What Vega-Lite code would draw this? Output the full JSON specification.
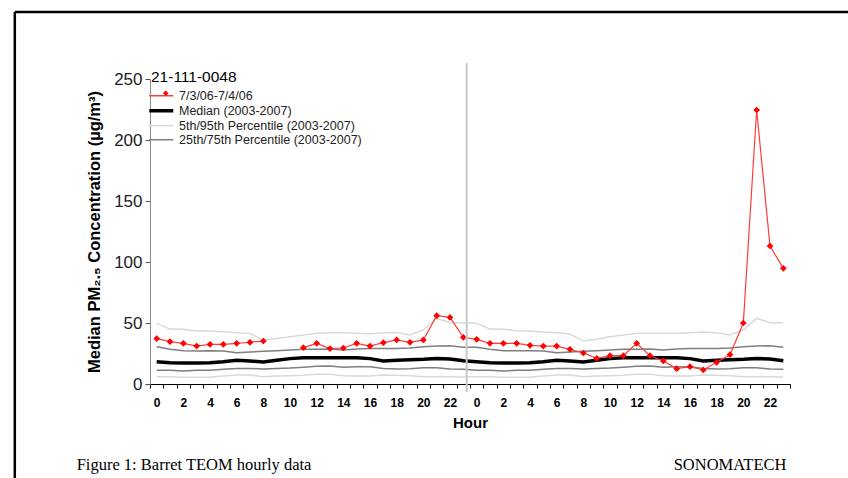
{
  "$schema": "https://vega.github.io/schema/vega-lite/v6.json",
  "autosize": "none",
  "width": 640,
  "height": 305,
  "padding": {"left": 150, "top": 79, "right": 58, "bottom": 94},
  "background": "white",
  "config": {
    "view": {"stroke": null},
    "font": "Liberation Sans",
    "axis": {"grid": false, "labelFont": "Liberation Sans", "titleFont": "Liberation Sans"},
    "axisX": {
      "labelOverlap": false,
      "labelFlush": false,
      "labelBound": false,
      "labelOffset": 6.67,
      "labelFontSize": 12,
      "labelFontWeight": "bold",
      "labelColor": "#000000",
      "labelPadding": 9,
      "tickSize": 4,
      "tickColor": "#000000",
      "domainColor": "#000000",
      "titleFontSize": 15,
      "titleFontWeight": "bold",
      "titleColor": "#000000",
      "titlePadding": 7
    },
    "axisY": {
      "labelOverlap": false,
      "tickSize": 5,
      "tickColor": "#555555",
      "domainColor": "#888888",
      "labelFontSize": 17,
      "labelColor": "#222222",
      "labelPadding": 3,
      "titleFontSize": 16.5,
      "titleFontWeight": "bold",
      "titleColor": "#000000",
      "titlePadding": 11
    }
  },
  "datasets": {
    "hourly": [
      {"i":0,"obs":37.2,"p5":6,"p25":11.2,"med":18.3,"p75":30.6,"p95":49.7},
      {"i":1,"obs":34.7,"p5":6,"p25":11.2,"med":17.5,"p75":28.4,"p95":45},
      {"i":2,"obs":33.3,"p5":5.5,"p25":10.7,"med":17.2,"p75":27.3,"p95":44.8},
      {"i":3,"obs":31.1,"p5":5.5,"p25":11.2,"med":17.2,"p75":27,"p95":43.4},
      {"i":4,"obs":32.5,"p5":5.5,"p25":11.2,"med":17.5,"p75":27.3,"p95":43.4},
      {"i":5,"obs":32.5,"p5":6.6,"p25":12,"med":18.3,"p75":27,"p95":42.9},
      {"i":6,"obs":33.3,"p5":7.4,"p25":12.8,"med":19.4,"p75":25.7,"p95":42},
      {"i":7,"obs":34.2,"p5":7.4,"p25":12.8,"med":18.9,"p75":26.2,"p95":41.5},
      {"i":8,"obs":35.2,"p5":6,"p25":12.3,"med":18,"p75":26.8,"p95":36},
      {"i":9,"obs":null,"p5":6.6,"p25":12.8,"med":19.4,"p75":27.3,"p95":37.2},
      {"i":10,"obs":null,"p5":6.8,"p25":13.1,"med":20.8,"p75":27.9,"p95":38.8},
      {"i":11,"obs":29.8,"p5":7.1,"p25":13.7,"med":21.6,"p75":28.4,"p95":40.2},
      {"i":12,"obs":33.3,"p5":7.9,"p25":14.5,"med":21.6,"p75":28.4,"p95":41.5},
      {"i":13,"obs":29.0,"p5":7.9,"p25":14.8,"med":21.6,"p75":28.7,"p95":42},
      {"i":14,"obs":29.5,"p5":6.8,"p25":13.7,"med":21.6,"p75":27.9,"p95":42},
      {"i":15,"obs":33.3,"p5":6.6,"p25":14.2,"med":21.6,"p75":28.7,"p95":41.5},
      {"i":16,"obs":31.1,"p5":6.6,"p25":14.2,"med":20.8,"p75":29.2,"p95":41},
      {"i":17,"obs":33.9,"p5":7.4,"p25":12.8,"med":18.9,"p75":29.2,"p95":42},
      {"i":18,"obs":36.1,"p5":7.1,"p25":12.3,"med":19.4,"p75":29.2,"p95":42.3},
      {"i":19,"obs":34.2,"p5":6.8,"p25":12.6,"med":19.9,"p75":29.5,"p95":40.2},
      {"i":20,"obs":36.1,"p5":6,"p25":13.4,"med":20.2,"p75":30.6,"p95":44.3},
      {"i":21,"obs":56.0,"p5":6,"p25":13.4,"med":20.8,"p75":31.1,"p95":53.8},
      {"i":22,"obs":54.6,"p5":6,"p25":12.3,"med":20.5,"p75":31.4,"p95":50.3},
      {"i":23,"obs":38.3,"p5":5.7,"p25":12,"med":19.1,"p75":30.1,"p95":50.3},
      {"i":24,"obs":36.6,"p5":6,"p25":11.2,"med":18.3,"p75":30.1,"p95":49.7},
      {"i":25,"obs":33.3,"p5":6,"p25":11.2,"med":17.5,"p75":28.4,"p95":45},
      {"i":26,"obs":33.3,"p5":5.5,"p25":10.7,"med":17.2,"p75":27.3,"p95":44.8},
      {"i":27,"obs":33.3,"p5":5.5,"p25":11.2,"med":17.2,"p75":27.3,"p95":43.6},
      {"i":28,"obs":31.7,"p5":5.5,"p25":11.2,"med":17.5,"p75":27.3,"p95":43.4},
      {"i":29,"obs":31.1,"p5":6.6,"p25":12,"med":18.3,"p75":27,"p95":42.6},
      {"i":30,"obs":31.1,"p5":7.4,"p25":12.8,"med":19.4,"p75":25.7,"p95":42},
      {"i":31,"obs":28.4,"p5":7.4,"p25":12.8,"med":18.9,"p75":26.2,"p95":40.9},
      {"i":32,"obs":25.4,"p5":6,"p25":12.3,"med":18,"p75":26.8,"p95":35.2},
      {"i":33,"obs":21.0,"p5":6.6,"p25":12.8,"med":19.4,"p75":27.3,"p95":36.6},
      {"i":34,"obs":23.2,"p5":6.8,"p25":13.1,"med":20.8,"p75":27.9,"p95":38.8},
      {"i":35,"obs":23.2,"p5":7.1,"p25":13.7,"med":21.6,"p75":28.4,"p95":40.2},
      {"i":36,"obs":33.3,"p5":7.9,"p25":14.5,"med":21.6,"p75":28.4,"p95":41.5},
      {"i":37,"obs":23.2,"p5":7.9,"p25":14.8,"med":21.6,"p75":28.7,"p95":41.5},
      {"i":38,"obs":18.9,"p5":6.8,"p25":13.7,"med":21.6,"p75":27.9,"p95":41.5},
      {"i":39,"obs":12.6,"p5":6.6,"p25":14.2,"med":21.6,"p75":28.7,"p95":41.5},
      {"i":40,"obs":14.2,"p5":6.6,"p25":14.2,"med":20.8,"p75":29.2,"p95":42},
      {"i":41,"obs":11.5,"p5":7.4,"p25":12.8,"med":18.9,"p75":29.2,"p95":42.6},
      {"i":42,"obs":17.8,"p5":7.1,"p25":12.3,"med":19.4,"p75":29.2,"p95":42},
      {"i":43,"obs":24.0,"p5":6.8,"p25":12.6,"med":19.9,"p75":29.5,"p95":40.2},
      {"i":44,"obs":50.0,"p5":6,"p25":13.4,"med":20.2,"p75":30.6,"p95":44.3},
      {"i":45,"obs":224.6,"p5":6,"p25":13.4,"med":20.8,"p75":31.1,"p95":53.8},
      {"i":46,"obs":113.1,"p5":6,"p25":12.3,"med":20.5,"p75":31.4,"p95":50.3},
      {"i":47,"obs":94.8,"p5":5.7,"p25":12,"med":19.1,"p75":30.1,"p95":50.3}
    ],
    "captions": [
      {"t": "Figure 1: Barret TEOM hourly data", "pos": "left"},
      {"t": "SONOMATECH", "pos": "right"}
    ]
  },
  "layer": [
    {
      "data": {"name": "hourly"},
      "encoding": {
        "x": {
          "field": "i", "type": "quantitative",
          "scale": {"domain": [-0.5, 47.5], "nice": false, "zero": false},
          "axis": {
            "title": "Hour",
            "labelOverlap": false,
            "values": [-0.5,0.5,1.5,2.5,3.5,4.5,5.5,6.5,7.5,8.5,9.5,10.5,11.5,12.5,13.5,14.5,15.5,16.5,17.5,18.5,19.5,20.5,21.5,22.5,23.5,24.5,25.5,26.5,27.5,28.5,29.5,30.5,31.5,32.5,33.5,34.5,35.5,36.5,37.5,38.5,39.5,40.5,41.5,42.5,43.5,44.5,45.5,46.5,47.5],
            "labelExpr": "(datum.value + 0.5) < 48 && (datum.value + 0.5) % 2 == 0 ? '' + ((datum.value + 0.5) % 24) : ''"
          }
        }
      },
      "layer": [
        {
          "mark": {"type": "line", "strokeWidth": 1.5},
          "encoding": {
            "y": {
              "field": "p95", "type": "quantitative",
              "scale": {"domain": [0, 250], "nice": false},
              "title": "Median PM₂.₅ Concentration (µg/m³)",
              "axis": {"values": [0, 50, 100, 150, 200, 250]}
            },
            "color": {
              "datum": "5th/95th Percentile (2003-2007)",
              "scale": {
                "domain": ["7/3/06-7/4/06", "Median (2003-2007)", "5th/95th Percentile (2003-2007)", "25th/75th Percentile (2003-2007)"],
                "range": ["#ff3b3b", "#000000", "#d9d9d9", "#7f7f7f"]
              },
              "legend": {
                "title": "21-111-0048",
                "orient": "none",
                "legendX": 1,
                "legendY": -9,
                "titleFont": "Liberation Sans",
                "titleFontSize": 15.5,
                "titleFontWeight": "normal",
                "titleColor": "#000000",
                "titlePadding": 4,
                "labelFont": "Liberation Sans",
                "labelFontSize": 12.5,
                "labelColor": "#222222",
                "labelLimit": 0,
                "labelOffset": 11.5,
                "symbolOffset": 4,
                "symbolType": "stroke",
                "symbolSize": 576,
                "rowPadding": 1,
                "encode": {
                  "symbols": {"update": {"strokeWidth": {"signal": "datum.value === 'Median (2003-2007)' ? 3.5 : 1.5"}}}
                }
              }
            }
          }
        },
        {
          "mark": {"type": "line", "strokeWidth": 1.5},
          "encoding": {
            "y": {"field": "p5", "type": "quantitative", "scale": {"domain": [0, 250], "nice": false}},
            "color": {"datum": "5th/95th Percentile (2003-2007)", "scale": {"domain": ["7/3/06-7/4/06", "Median (2003-2007)", "5th/95th Percentile (2003-2007)", "25th/75th Percentile (2003-2007)"], "range": ["#ff3b3b", "#000000", "#d9d9d9", "#7f7f7f"]}}
          }
        },
        {
          "mark": {"type": "line", "strokeWidth": 1.5},
          "encoding": {
            "y": {"field": "p75", "type": "quantitative", "scale": {"domain": [0, 250], "nice": false}},
            "color": {"datum": "25th/75th Percentile (2003-2007)", "scale": {"domain": ["7/3/06-7/4/06", "Median (2003-2007)", "5th/95th Percentile (2003-2007)", "25th/75th Percentile (2003-2007)"], "range": ["#ff3b3b", "#000000", "#d9d9d9", "#7f7f7f"]}}
          }
        },
        {
          "mark": {"type": "line", "strokeWidth": 1.5},
          "encoding": {
            "y": {"field": "p25", "type": "quantitative", "scale": {"domain": [0, 250], "nice": false}},
            "color": {"datum": "25th/75th Percentile (2003-2007)", "scale": {"domain": ["7/3/06-7/4/06", "Median (2003-2007)", "5th/95th Percentile (2003-2007)", "25th/75th Percentile (2003-2007)"], "range": ["#ff3b3b", "#000000", "#d9d9d9", "#7f7f7f"]}}
          }
        },
        {
          "mark": {"type": "line", "strokeWidth": 3.5},
          "encoding": {
            "y": {"field": "med", "type": "quantitative", "scale": {"domain": [0, 250], "nice": false}},
            "color": {"datum": "Median (2003-2007)", "scale": {"domain": ["7/3/06-7/4/06", "Median (2003-2007)", "5th/95th Percentile (2003-2007)", "25th/75th Percentile (2003-2007)"], "range": ["#ff3b3b", "#000000", "#d9d9d9", "#7f7f7f"]}}
          }
        },
        {
          "mark": {"type": "line", "strokeWidth": 1.2, "invalid": "break-paths-show-domains"},
          "encoding": {
            "y": {"field": "obs", "type": "quantitative", "scale": {"domain": [0, 250], "nice": false}},
            "color": {"datum": "7/3/06-7/4/06", "scale": {"domain": ["7/3/06-7/4/06", "Median (2003-2007)", "5th/95th Percentile (2003-2007)", "25th/75th Percentile (2003-2007)"], "range": ["#ff3b3b", "#000000", "#d9d9d9", "#7f7f7f"]}}
          }
        },
        {
          "mark": {"type": "point", "filled": true, "color": "#ff0000", "size": 45, "opacity": 1},
          "encoding": {
            "y": {"field": "obs", "type": "quantitative", "scale": {"domain": [0, 250], "nice": false}},
            "shape": {
              "datum": "7/3/06-7/4/06",
              "scale": {"domain": ["7/3/06-7/4/06"], "range": ["diamond"]},
              "legend": {
                "title": null,
                "orient": "none",
                "legendX": 1,
                "legendY": 8,
                "labelFontSize": 12.5,
                "labelExpr": "''",
                "symbolSize": 30,
                "symbolOffset": 8.5,
                "symbolFillColor": "#ff0000",
                "symbolStrokeColor": "#ff0000",
                "symbolStrokeWidth": 0
              }
            }
          }
        }
      ]
    },
    {
      "data": {"values": [{"sep": 23.25}]},
      "mark": {"type": "rule", "stroke": "#c8c8c8", "strokeWidth": 2},
      "encoding": {
        "x": {"field": "sep", "type": "quantitative", "scale": {"domain": [-0.5, 47.5], "nice": false, "zero": false},
          "axis": {
            "title": "Hour",
            "labelOverlap": false,
            "values": [-0.5,0.5,1.5,2.5,3.5,4.5,5.5,6.5,7.5,8.5,9.5,10.5,11.5,12.5,13.5,14.5,15.5,16.5,17.5,18.5,19.5,20.5,21.5,22.5,23.5,24.5,25.5,26.5,27.5,28.5,29.5,30.5,31.5,32.5,33.5,34.5,35.5,36.5,37.5,38.5,39.5,40.5,41.5,42.5,43.5,44.5,45.5,46.5,47.5],
            "labelExpr": "(datum.value + 0.5) < 48 && (datum.value + 0.5) % 2 == 0 ? '' + ((datum.value + 0.5) % 24) : ''"
          }},
        "y": {"datum": 263, "type": "quantitative", "scale": {"domain": [0, 250], "nice": false}},
        "y2": {"datum": -6.5}
      }
    },
    {
      "data": {"values": [{"edge": "top"}]},
      "mark": {"type": "rule", "stroke": "#000000", "strokeWidth": 2.5},
      "encoding": {
        "x": {"datum": -10.64, "type": "quantitative", "scale": {"domain": [-0.5, 47.5], "nice": false, "zero": false},
          "axis": {
            "title": "Hour",
            "labelOverlap": false,
            "values": [-0.5,0.5,1.5,2.5,3.5,4.5,5.5,6.5,7.5,8.5,9.5,10.5,11.5,12.5,13.5,14.5,15.5,16.5,17.5,18.5,19.5,20.5,21.5,22.5,23.5,24.5,25.5,26.5,27.5,28.5,29.5,30.5,31.5,32.5,33.5,34.5,35.5,36.5,37.5,38.5,39.5,40.5,41.5,42.5,43.5,44.5,45.5,46.5,47.5],
            "labelExpr": "(datum.value + 0.5) < 48 && (datum.value + 0.5) % 2 == 0 ? '' + ((datum.value + 0.5) % 24) : ''"
          }},
        "x2": {"datum": 52},
        "y": {"datum": 305, "type": "quantitative", "scale": {"domain": [0, 250], "nice": false}}
      }
    },
    {
      "data": {"values": [{"edge": "left"}]},
      "mark": {"type": "rule", "stroke": "#000000", "strokeWidth": 2.5},
      "encoding": {
        "x": {"datum": -10.64, "type": "quantitative", "scale": {"domain": [-0.5, 47.5], "nice": false, "zero": false},
          "axis": {
            "title": "Hour",
            "labelOverlap": false,
            "values": [-0.5,0.5,1.5,2.5,3.5,4.5,5.5,6.5,7.5,8.5,9.5,10.5,11.5,12.5,13.5,14.5,15.5,16.5,17.5,18.5,19.5,20.5,21.5,22.5,23.5,24.5,25.5,26.5,27.5,28.5,29.5,30.5,31.5,32.5,33.5,34.5,35.5,36.5,37.5,38.5,39.5,40.5,41.5,42.5,43.5,44.5,45.5,46.5,47.5],
            "labelExpr": "(datum.value + 0.5) < 48 && (datum.value + 0.5) % 2 == 0 ? '' + ((datum.value + 0.5) % 24) : ''"
          }},
        "y": {"datum": 305, "type": "quantitative", "scale": {"domain": [0, 250], "nice": false}},
        "y2": {"datum": -80}
      }
    },
    {
      "data": {"name": "captions"},
      "transform": [{"filter": "datum.pos == 'left'"}],
      "mark": {"type": "text", "font": "Liberation Serif", "fontSize": 16.5, "align": "left", "baseline": "alphabetic", "color": "#000000"},
      "encoding": {
        "x": {"datum": -6, "type": "quantitative", "scale": {"domain": [-0.5, 47.5], "nice": false, "zero": false},
          "axis": {
            "title": "Hour",
            "labelOverlap": false,
            "values": [-0.5,0.5,1.5,2.5,3.5,4.5,5.5,6.5,7.5,8.5,9.5,10.5,11.5,12.5,13.5,14.5,15.5,16.5,17.5,18.5,19.5,20.5,21.5,22.5,23.5,24.5,25.5,26.5,27.5,28.5,29.5,30.5,31.5,32.5,33.5,34.5,35.5,36.5,37.5,38.5,39.5,40.5,41.5,42.5,43.5,44.5,45.5,46.5,47.5],
            "labelExpr": "(datum.value + 0.5) < 48 && (datum.value + 0.5) % 2 == 0 ? '' + ((datum.value + 0.5) % 24) : ''"
          }},
        "y": {"datum": -70.5, "type": "quantitative", "scale": {"domain": [0, 250], "nice": false}},
        "text": {"field": "t"}
      }
    },
    {
      "data": {"name": "captions"},
      "transform": [{"filter": "datum.pos == 'right'"}],
      "mark": {"type": "text", "font": "Liberation Serif", "fontSize": 16.5, "align": "right", "baseline": "alphabetic", "color": "#000000"},
      "encoding": {
        "x": {"datum": 47.23, "type": "quantitative", "scale": {"domain": [-0.5, 47.5], "nice": false, "zero": false},
          "axis": {
            "title": "Hour",
            "labelOverlap": false,
            "values": [-0.5,0.5,1.5,2.5,3.5,4.5,5.5,6.5,7.5,8.5,9.5,10.5,11.5,12.5,13.5,14.5,15.5,16.5,17.5,18.5,19.5,20.5,21.5,22.5,23.5,24.5,25.5,26.5,27.5,28.5,29.5,30.5,31.5,32.5,33.5,34.5,35.5,36.5,37.5,38.5,39.5,40.5,41.5,42.5,43.5,44.5,45.5,46.5,47.5],
            "labelExpr": "(datum.value + 0.5) < 48 && (datum.value + 0.5) % 2 == 0 ? '' + ((datum.value + 0.5) % 24) : ''"
          }},
        "y": {"datum": -70.5, "type": "quantitative", "scale": {"domain": [0, 250], "nice": false}},
        "text": {"field": "t"}
      }
    }
  ]
}
